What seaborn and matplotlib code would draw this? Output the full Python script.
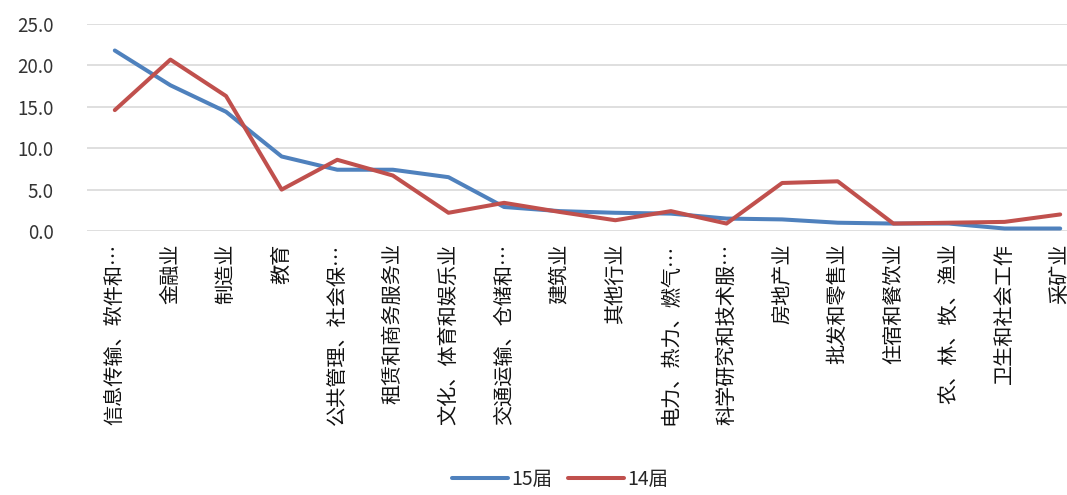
import pandas as pd
import matplotlib.pyplot as plt
import seaborn as sns

industries = [
    "信息传输、软件和…", "金融业", "制造业", "教育", "公共管理、社会保…",
    "租赁和商务服务业", "文化、体育和娱乐业", "交通运输、仓储和…", "建筑业",
    "其他行业", "电力、热力、燃气…", "科学研究和技术服…", "房地产业",
    "批发和零售业", "住宿和餐饮业", "农、林、牧、渔业", "卫生和社会工作", "采矿业",
]
values_15 = [21.8, 17.6, 14.4, 9.0, 7.4, 7.4, 6.5, 2.9, 2.4, 2.2, 2.1, 1.5, 1.4, 1.0, 0.9, 0.9, 0.3, 0.3]
values_14 = [14.6, 20.7, 16.3, 5.0, 8.6, 6.7, 2.2, 3.4, 2.3, 1.3, 2.4, 0.9, 5.8, 6.0, 0.9, 1.0, 1.1, 2.0]
series = ["15届", "14届"]
y_ticks = [0, 5, 10, 15, 20, 25]

df = pd.DataFrame({
    "行业": industries * 2,
    "比例": values_15 + values_14,
    "届": [series[0]] * len(industries) + [series[1]] * len(industries),
})
df["pos"] = list(range(len(industries))) * 2

sns.set_style("white")
plt.rcParams["font.family"] = ["Noto Sans CJK SC", "DejaVu Sans"]

fig = plt.figure(figsize=(10.67, 4.95), dpi=100)
ax = fig.add_axes([87 / 1067, 264 / 495, 1001 / 1067, 207 / 495])

sns.lineplot(data=df, x="pos", y="比例", hue="届", hue_order=series,
             palette=["#4F81BD", "#C0504D"], linewidth=2.9, sort=False, ax=ax)

ax.set_xlim(-0.5, len(industries) - 0.5)
ax.set_ylim(0, 25)
ax.set_yticks(y_ticks)
ax.set_yticklabels([f"{v:.1f}" for v in y_ticks], fontsize=13.5, color="#333333")
ax.set_xticks(range(len(industries)))
ax.set_xticklabels(industries, rotation=90, ha="center", va="top", fontsize=14.5, color="#111111")
ax.tick_params(axis="both", length=0)
ax.tick_params(axis="x", pad=9)
ax.tick_params(axis="y", pad=24)
ax.set_xlabel("")
ax.set_ylabel("")
ax.yaxis.grid(True, color="#D9D9D9", linewidth=1.2)
ax.set_axisbelow(True)
for s in ax.spines.values():
    s.set_visible(False)

handles, labels = ax.get_legend_handles_labels()
ax.get_legend().remove()
fig.legend(handles, labels, loc="lower center", bbox_to_anchor=(0.525, -0.025), ncol=2,
           frameon=False, fontsize=14, handlelength=2.9, columnspacing=0.8, handletextpad=0.15)

fig.savefig("out.png", dpi=100)
